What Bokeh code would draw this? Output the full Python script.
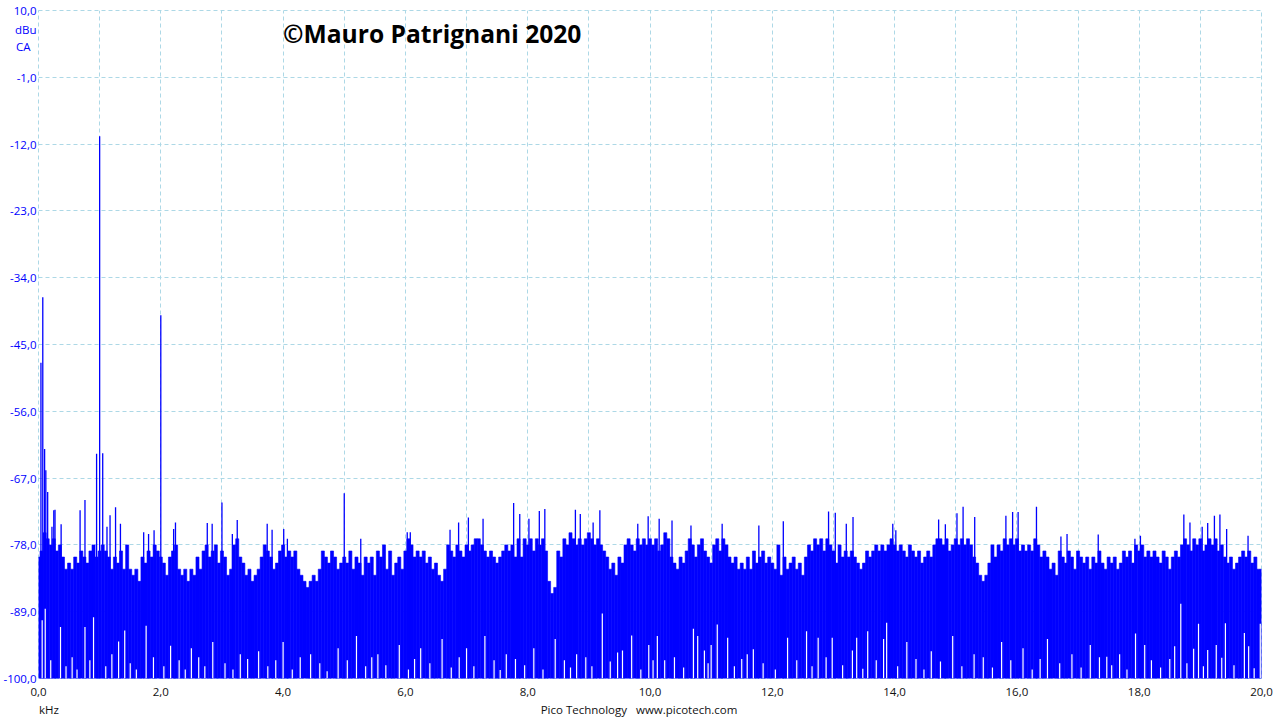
from bokeh.plotting import figure
from bokeh.models import Range1d, FixedTicker, Label
from bokeh.embed import file_html
from bokeh.resources import INLINE

# ---------------- data ----------------
BIN_KHZ = 0.05
# upper level of the dense noise floor, one value per 0.05 kHz bin, 0.00 ... 20.00 kHz (dBu)
noise_top = [
    -80, -79, -76, -77, -78, -77, -79, -78, -80, -82, -81, -82, -80, -81, -79, -80, -81, -79, -78, -80,
    -79, -78, -79, -80, -82, -80, -81, -79, -82, -78, -82, -83, -82, -84, -80, -81, -79, -80, -78, -79,
    -80, -81, -83, -80, -79, -78, -82, -83, -82, -84, -82, -83, -80, -82, -79, -78, -80, -79, -78, -81,
    -79, -80, -83, -82, -78, -77, -80, -81, -83, -82, -84, -83, -82, -80, -78, -79, -80, -82, -81, -79,
    -78, -80, -79, -80, -79, -82, -83, -84, -85, -84, -83, -84, -82, -79, -80, -81, -79, -80, -82, -81,
    -80, -81, -79, -82, -80, -81, -83, -80, -81, -80, -83, -79, -80, -78, -82, -79, -83, -81, -80, -82,
    -79, -77, -78, -80, -79, -80, -79, -81, -80, -82, -81, -83, -84, -82, -78, -79, -80, -78, -79, -80,
    -78, -79, -78, -77, -77, -78, -79, -80, -79, -80, -81, -80, -79, -78, -79, -78, -80, -77, -80, -77,
    -78, -77, -79, -77, -78, -77, -79, -84, -86, -85, -79, -80, -77, -78, -76, -77, -78, -77, -78, -77,
    -76, -77, -78, -77, -78, -79, -80, -82, -81, -83, -80, -81, -78, -77, -78, -79, -77, -78, -77, -78,
    -77, -78, -77, -79, -78, -76, -77, -80, -81, -82, -80, -81, -79, -77, -78, -80, -78, -77, -79, -80,
    -81, -78, -77, -79, -77, -78, -80, -81, -80, -82, -81, -82, -80, -82, -79, -81, -80, -79, -81, -80,
    -81, -82, -78, -83, -80, -82, -81, -80, -82, -81, -83, -80, -78, -79, -77, -78, -77, -79, -77, -78,
    -79, -81, -78, -80, -79, -80, -79, -80, -81, -82, -81, -79, -80, -79, -78, -79, -78, -79, -78, -77,
    -78, -79, -78, -79, -80, -78, -79, -80, -79, -81, -80, -79, -80, -78, -77, -77, -78, -77, -79, -78,
    -77, -78, -77, -78, -77, -78, -80, -81, -83, -84, -83, -81, -78, -80, -78, -79, -77, -78, -77, -78,
    -77, -79, -78, -79, -78, -79, -77, -78, -80, -79, -80, -82, -81, -83, -79, -80, -81, -79, -80, -82,
    -79, -80, -81, -80, -82, -80, -81, -79, -81, -82, -80, -81, -80, -82, -81, -79, -80, -79, -81, -78,
    -79, -78, -80, -79, -80, -79, -80, -81, -79, -80, -82, -80, -79, -80, -78, -77, -78, -79, -77, -78,
    -77, -79, -78, -77, -78, -77, -79, -78, -80, -81, -80, -82, -81, -80, -79, -80, -79, -81, -80, -82,
    -82,
]
noise_khz = [round(i * BIN_KHZ, 2) for i in range(len(noise_top))]

# single tall spectral lines (tones, sidebands and the tallest noise spikes)
spike_khz = [0.04, 0.07, 0.10, 0.12, 0.15, 0.22, 0.25, 0.27, 0.37, 0.68, 0.76,
             0.95, 1.00, 1.05, 1.12, 1.17, 1.26, 1.34, 1.72, 1.80, 1.89, 2.00,
             2.21, 2.24, 2.76, 2.84, 3.00, 3.17, 3.25, 3.74, 3.82, 4.01, 4.07,
             5.00, 5.27, 6.03, 6.08, 6.73, 6.87, 7.03, 7.27, 7.77, 7.87, 8.02,
             8.19, 8.28, 8.78, 8.86, 9.07, 9.18, 9.80, 9.97, 10.15, 10.36, 10.67,
             11.18, 11.78, 12.18, 12.92, 13.03, 13.21, 13.32, 13.97, 14.02, 14.72,
             14.83, 15.02, 15.12, 15.31, 15.82, 15.93, 16.02, 16.32, 16.72, 16.82,
             17.33, 17.93, 18.02, 18.73, 18.83, 19.03, 19.12, 19.23, 19.32, 19.43, 19.78]
spike_db = [-48.0, -37.2, -62.2, -65.7, -69.3, -75.0, -72.3, -72.2, -74.6, -72.3, -70.6,
            -63.0, -10.7, -62.9, -75.0, -73.1, -71.8, -74.5, -75.9, -76.2, -75.6, -40.2,
            -75.4, -74.3, -74.4, -74.5, -71.0, -76.2, -73.9, -74.5, -75.5, -75.4, -77.0,
            -69.5, -77.0, -75.9, -75.9, -75.5, -74.3, -73.5, -73.7, -71.1, -72.9, -73.7,
            -72.4, -72.1, -72.2, -72.9, -74.3, -72.3, -74.5, -73.3, -73.7, -74.0, -74.8,
            -74.5, -74.8, -74.1, -72.5, -72.7, -74.5, -73.4, -74.5, -75.6, -73.8,
            -74.6, -72.8, -71.7, -73.4, -73.2, -72.6, -72.6, -71.7, -76.6, -76.2,
            -76.3, -77.0, -76.5, -73.0, -74.3, -75.0, -74.4, -73.2, -73.0, -75.4, -76.5]

# columns whose minimum stays above the -100 dBu floor (white gaps from the bottom)
dip_khz = [0.06, 0.11, 0.20, 0.36, 0.45, 0.55, 0.63, 0.76, 0.84, 0.90, 1.10, 1.20,
           1.31, 1.41, 1.50, 1.60, 1.76, 1.88, 2.05, 2.16, 2.30, 2.40, 2.50, 2.62,
           2.72, 2.85, 3.05, 3.18, 3.30, 3.42, 3.60, 3.75, 3.88, 4.00, 4.15, 4.28,
           4.45, 4.60, 4.72, 4.90, 5.05, 5.20, 5.35, 5.45, 5.55, 5.68, 5.90, 6.05,
           6.15, 6.25, 6.40, 6.60, 6.75, 6.88, 7.00, 7.12, 7.30, 7.45, 7.55, 7.65,
           7.80, 7.95, 8.10, 8.25, 8.45, 8.60, 8.70, 8.80, 8.95, 9.05, 9.22, 9.35,
           9.47, 9.55, 9.70, 9.85, 9.98, 10.05, 10.12, 10.24, 10.40, 10.55, 10.71, 10.78,
           10.89, 10.95, 11.00, 11.10, 11.27, 11.38, 11.50, 11.59, 11.69, 11.85, 12.05, 12.25,
           12.40, 12.56, 12.65, 12.75, 12.88, 12.98, 13.15, 13.31, 13.38, 13.48, 13.56, 13.70,
           13.82, 13.87, 14.05, 14.20, 14.35, 14.48, 14.60, 14.75, 14.95, 15.10, 15.30, 15.45,
           15.60, 15.75, 15.90, 16.10, 16.25, 16.38, 16.50, 16.70, 16.90, 17.05, 17.20, 17.35,
           17.47, 17.55, 17.68, 17.80, 17.94, 18.09, 18.20, 18.35, 18.50, 18.58, 18.68, 18.78,
           18.89, 18.97, 19.05, 19.12, 19.26, 19.35, 19.41, 19.55, 19.72, 19.79, 19.88, 19.98]
dip_db = [-90.4, -88.5, -97.0, -91.5, -98.0, -96.5, -98.5, -91.5, -97.0, -89.9, -98.0, -96.0,
          -93.9, -92.1, -97.5, -98.5, -91.3, -96.5, -98.0, -94.6, -97.0, -98.5, -95.0, -96.5,
          -98.0, -94.0, -97.5, -98.5, -96.0, -96.8, -95.5, -98.0, -97.0, -94.0, -98.5, -96.5,
          -96.0, -97.5, -98.8, -95.0, -97.0, -93.0, -98.0, -96.5, -96.0, -97.8, -94.5, -98.5,
          -96.8, -95.0, -97.5, -93.5, -98.2, -96.5, -95.0, -98.0, -93.0, -97.0, -98.6, -96.0,
          -96.8, -97.8, -95.0, -98.5, -93.5, -97.0, -98.2, -96.0, -96.5, -98.0, -89.3, -97.2,
          -95.7, -95.4, -92.9, -98.5, -94.5, -97.0, -93.0, -97.0, -96.5, -98.2, -91.8, -93.0,
          -95.4, -97.5, -94.5, -91.1, -93.3, -98.0, -96.8, -96.0, -95.2, -97.5, -98.5, -93.3,
          -97.0, -92.2, -98.0, -93.3, -96.5, -93.3, -97.8, -95.4, -93.3, -98.4, -92.2, -97.0,
          -93.5, -90.8, -98.0, -94.0, -96.8, -98.5, -95.5, -97.2, -93.0, -98.0, -96.0, -96.5,
          -98.2, -94.0, -97.0, -95.0, -98.5, -96.8, -93.5, -97.5, -96.0, -98.2, -94.5, -96.5,
          -96.4, -97.8, -96.0, -98.5, -92.6, -94.5, -97.0, -98.2, -96.8, -94.7, -87.7, -97.5,
          -95.1, -91.0, -98.0, -95.3, -94.5, -96.6, -90.9, -97.8, -92.5, -94.7, -98.3, -91.0]

y_ticks = [10, -1, -12, -23, -34, -45, -56, -67, -78, -89, -100]
y_tick_labels = ["10,0", "-1,0", "-12,0", "-23,0", "-34,0", "-45,0", "-56,0",
                 "-67,0", "-78,0", "-89,0", "-100,0"]
# unit captions shown in the y-axis label column under "10,0"
y_unit_pos = [6.87, 4.07]
y_unit_labels = ["dBu", "CA\u00a0\u00a0"]

x_ticks = [0, 2, 4, 6, 8, 10, 12, 14, 16, 18, 20]
x_tick_labels = ["0,0", "2,0", "4,0", "6,0", "8,0", "10,0", "12,0", "14,0",
                 "16,0", "18,0", "20,0"]
# captions on the second line of the x-axis label row
x_caption_pos = [0.17, 9.82]
x_caption_labels = ["\nkHz", "\nPico Technology\u00a0\u00a0\u00a0www.picotech.com"]
x_grid = [0, 1, 2, 3, 4, 5, 6, 7, 8, 9, 10, 11, 12, 13, 14, 15, 16, 17, 18, 19, 20]

BLUE = "#0000ff"
GRID = "#add8e6"
FONT = "Open Sans"

# ---------------- figure ----------------
p = figure(width=1280, height=720, x_range=Range1d(0, 20), y_range=Range1d(-100, 10),
           output_backend="svg", toolbar_location=None,
           min_border_left=38, min_border_right=19, min_border_top=10, min_border_bottom=42)
p.background_fill_color = "white"
p.border_fill_color = "white"
p.outline_line_color = GRID
p.outline_line_dash = "4 3"
p.outline_line_width = 1

for g, ticks in ((p.xgrid, x_grid), (p.ygrid, y_ticks)):
    g.ticker = FixedTicker(ticks=ticks)
    g.grid_line_color = GRID
    g.grid_line_dash = "4 3"
    g.grid_line_width = 1

for ax in (p.xaxis, p.yaxis):
    ax.axis_line_color = None
    ax.major_tick_line_color = None
    ax.minor_tick_line_color = None
    ax.major_tick_out = 0
    ax.major_tick_in = 0
    ax.minor_tick_out = 0
    ax.minor_tick_in = 0
    ax.major_label_text_font = FONT
    ax.major_label_text_font_size = "11.5px"

p.xaxis.ticker = FixedTicker(ticks=x_ticks + x_caption_pos)
p.xaxis.major_label_overrides = dict(zip(x_ticks + x_caption_pos, x_tick_labels + x_caption_labels))
p.xaxis.major_label_text_color = "#111111"
p.xaxis.major_label_standoff = 5
p.xaxis.major_label_text_line_height = 1.2

p.yaxis.ticker = FixedTicker(ticks=y_ticks + y_unit_pos)
p.yaxis.major_label_overrides = dict(zip(y_ticks + y_unit_pos, y_tick_labels + y_unit_labels))
p.yaxis.major_label_text_color = BLUE
p.yaxis.major_label_standoff = 2

# spectrum
p.vbar(x=noise_khz, width=BIN_KHZ, bottom=-100, top=noise_top,
       fill_color=BLUE, line_color=BLUE, line_width=0.6)
p.segment(x0=spike_khz, y0=-100, x1=spike_khz, y1=spike_db, line_color=BLUE, line_width=1.3)
p.segment(x0=dip_khz, y0=-100, x1=dip_khz, y1=dip_db, line_color="white", line_width=1.2)

# title text inside the plot area
p.add_layout(Label(x=4.0, y=6.2, text="\u00a9Mauro Patrignani 2020", text_font=FONT,
                   text_font_style="bold", text_font_size="24.6px", text_color="black",
                   text_baseline="alphabetic", text_align="left"))

open("out.html", "w").write(file_html(p, INLINE))
